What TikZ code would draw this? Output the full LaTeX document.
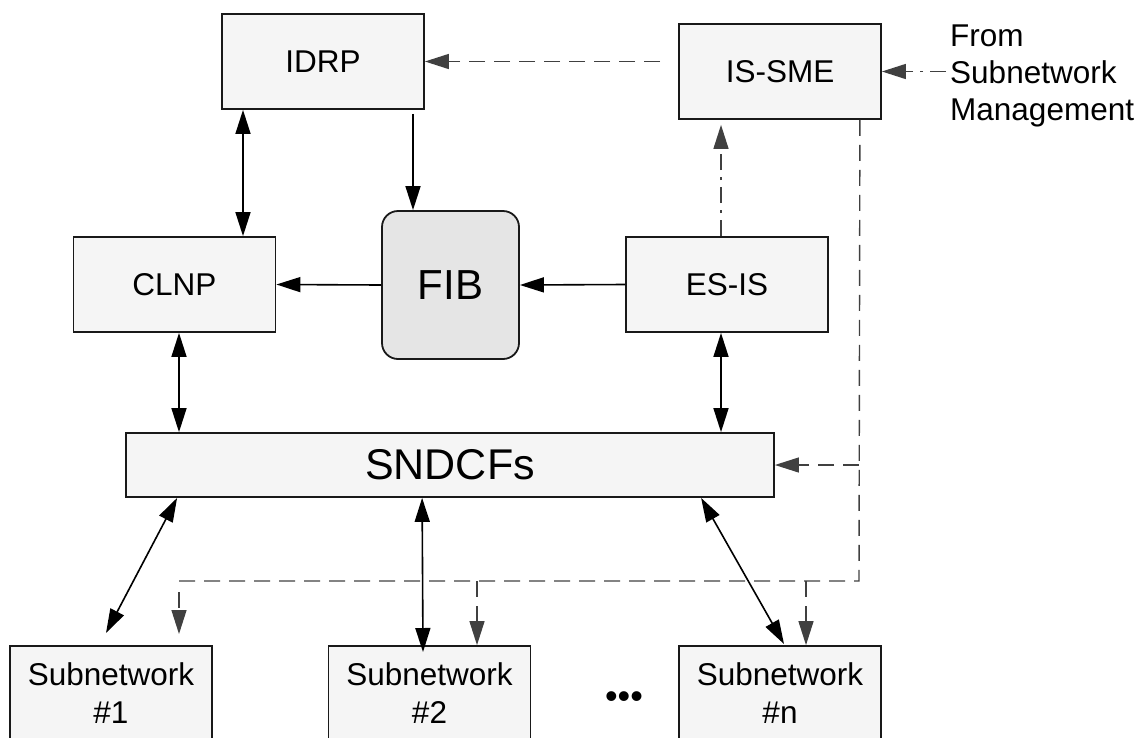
\documentclass[tikz,border=0pt]{standalone}
\usepackage{fontspec}
\setmainfont{Liberation Sans}
\usetikzlibrary{arrows.meta,calc}
\begin{document}
\begin{tikzpicture}[x=1pt,y=-1pt,
  box/.style={draw=black!90,line width=1.8pt,fill=black!4,inner sep=0pt,
    minimum width=202pt,minimum height=95pt,align=center,
    font=\fontsize{31.5}{38}\selectfont},
  con/.style={line width=1.6pt,draw=black},
  dsh/.style={line width=1.4pt,draw=black!75,dash pattern=on 16pt off 9pt},
  dshdot/.style={line width=1.4pt,draw=black!75,dash pattern=on 16pt off 7pt on 3pt off 7pt},
  arr/.style={-{Triangle[length=24pt,width=15pt]}},
  darr/.style={{Triangle[length=24pt,width=15pt]}-{Triangle[length=24pt,width=15pt]}}]
\useasboundingbox (0,0) rectangle (1143,737);
\clip (0,0) rectangle (1143,737);

% nodes
\node[box] (idrp) at (323,61.5) {IDRP};
\node[box] (issme) at (780,71.5) {IS-SME};
\node[box] (clnp) at (174.5,284.5) {CLNP};
\node[box,minimum width=137pt,minimum height=148pt,rounded corners=16pt,fill=black!10,
  font=\fontsize{42}{48}\selectfont] (fib) at (450.5,285) {FIB};
\node[box] (esis) at (727,284.5) {ES-IS};
\node[box,minimum width=648pt,minimum height=64pt,font=\fontsize{43}{48}\selectfont] (sndcf) at (450,465) {SNDCFs};
\node[box] (sub1) at (111,693.5) {Subnetwork\\\#1};
\node[box] (sub2) at (429.5,693.5) {Subnetwork\\\#2};
\node[box] (subn) at (780,693.5) {Subnetwork\\\#n};
\node[inner sep=0pt,font=\fontsize{36}{40}\selectfont] (dots) at (624,700) {•••};
\node[inner sep=0pt,anchor=north west,align=left,font=\fontsize{31.5}{37}\selectfont] (from) at (950,25) {From\\Subnetwork\\Management};

% coordinates
\coordinate (a1) at ($(issme.west |- idrp.east)+(-18,0)$);
\coordinate (a2) at ($(clnp.north)+(68.5,0)$);
\coordinate (a3) at ($(fib.north)+(-37.5,0)$);
\coordinate (a4) at ($(esis.north)+(-6,0)$);
\coordinate (a5) at ($(clnp.south)+(4.5,0)$);
\coordinate (a6) at ($(esis.south)+(-6,0)$);
\coordinate (b1) at ($(sndcf.south west)+(52,0)$);
\coordinate (b2) at ($(sndcf.south west)+(297,0)$);
\coordinate (b3) at ($(sndcf.south west)+(576,0)$);
\coordinate (t1) at (106,633);
\coordinate (t2) at (423,652);
\coordinate (t3) at (784,644);
\coordinate (m0) at ($(issme.south east)+(-22,0)$);
\coordinate (m1) at (859,581);
\coordinate (m2) at (179,581);
\coordinate (s1) at (179,592);
\coordinate (s1e) at (179,634);
\coordinate (s2) at (477,581);
\coordinate (s3) at (806,581);
\coordinate (f0) at (946,71.5);

% solid connectors
\draw[con,darr] (a2 |- idrp.south) -- (a2);
\draw[con,arr] ($(a3 |- idrp.south)+(0,4)$) -- (a3);
\draw[con,arr] (fib.west) -- (clnp.east);
\draw[con,arr] (esis.west) -- (fib.east);
\draw[con,darr] (a5) -- (a5 |- sndcf.north);
\draw[con,darr] (a6) -- (a6 |- sndcf.north);
\draw[con,darr] (b1) -- (t1);
\draw[con,darr] (b2) -- (t2);
\draw[con,darr] (b3) -- (t3);

% dashed connectors
\draw[dsh,arr] (a1) -- (idrp.east);
\draw[dshdot,arr] (a4) -- ($(a4 |- issme.south)+(0,5)$);
\draw[dshdot,arr] (f0) -- (issme.east);
\draw[dsh] (m0) -- (m1) -- (m2);
\draw[dsh,arr] (m1 |- sndcf.east) -- (sndcf.east);
\draw[dsh,arr] (s1) -- (s1e);
\draw[dsh,arr] (s2) -- (s2 |- sub2.north);
\draw[dsh,arr] (s3) -- (s3 |- subn.north);
\end{tikzpicture}
\end{document}
